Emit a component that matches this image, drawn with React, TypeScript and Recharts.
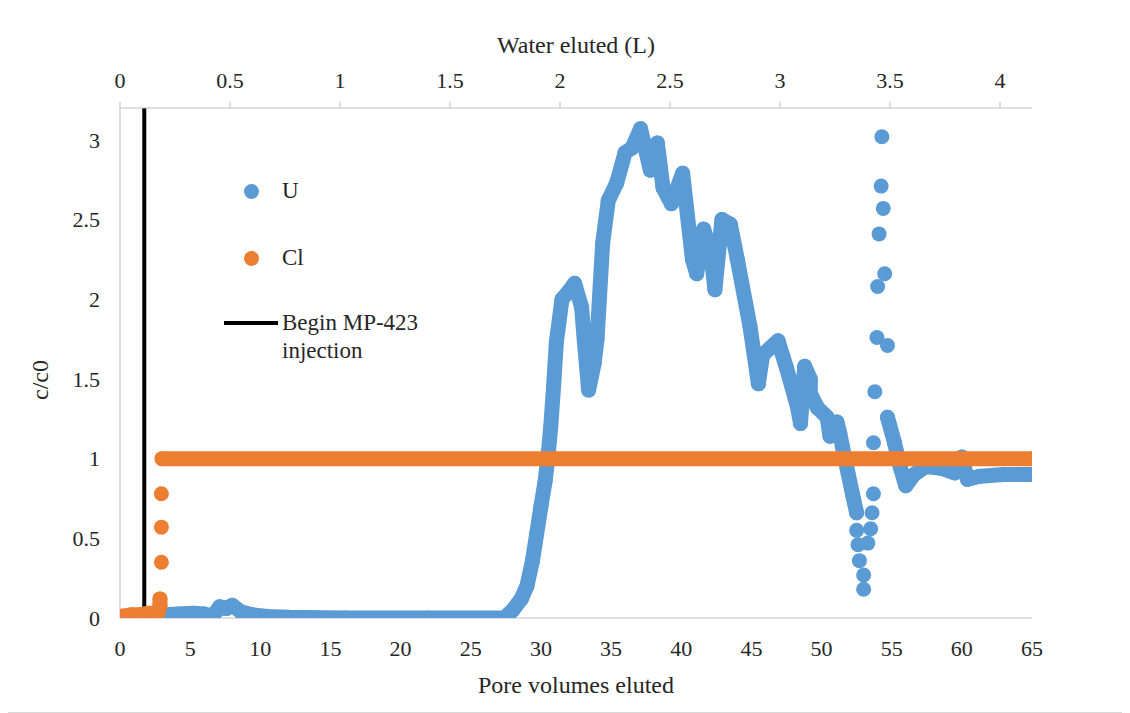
import React from "react";
import { Label, ReferenceLine, Scatter, ScatterChart, XAxis, YAxis } from "recharts";

// pore volumes per litre of water eluted (top axis conversion)
const PV_PER_LITER = 15.68;
const injectionStartPv = 1.73;

const poreVolumeTicks = [0, 5, 10, 15, 20, 25, 30, 35, 40, 45, 50, 55, 60, 65];
const waterTicks = [0, 0.5, 1, 1.5, 2, 2.5, 3, 3.5, 4];
const ratioTicks = [0, 0.5, 1, 1.5, 2, 2.5, 3];

// U, dense run of samples up to the dip near 52 PV
const uEarly: [number, number][] = [
  [0, 0.01], [0.8, 0.0], [1.6, 0.0], [2.4, 0.01], [3.2, 0.02], [4.2, 0.025],
  [5.2, 0.03], [6.0, 0.025], [6.6, 0.01], [7.1, 0.07], [7.6, 0.06], [8.0, 0.08],
  [8.6, 0.04], [9.4, 0.02], [10.5, 0.01], [12, 0.005], [16, 0.0], [22, 0.0],
  [27.4, 0.0], [28.0, 0.05], [28.6, 0.12], [29.0, 0.2], [29.4, 0.36], [29.7, 0.53],
  [30.0, 0.7], [30.3, 0.86], [30.5, 1.01], [30.7, 1.2], [30.9, 1.45], [31.1, 1.73],
  [31.5, 2.0], [31.9, 2.04], [32.4, 2.1], [32.9, 1.95], [33.1, 1.73], [33.4, 1.43],
  [33.8, 1.6], [34.0, 1.75], [34.4, 2.35], [34.8, 2.62], [35.4, 2.73], [36.0, 2.92],
  [36.5, 2.95], [37.1, 3.07], [37.8, 2.81], [38.3, 2.98], [38.7, 2.7], [39.3, 2.6],
  [40.1, 2.79], [40.8, 2.25], [41.1, 2.16], [41.6, 2.44], [42.1, 2.3], [42.4, 2.06],
  [42.9, 2.5], [43.5, 2.47], [44.0, 2.25], [44.9, 1.83], [45.5, 1.47], [45.8, 1.65],
  [46.9, 1.74], [47.5, 1.57], [48.3, 1.32], [48.5, 1.22], [48.8, 1.58], [49.2, 1.5],
  [49.2, 1.41], [49.7, 1.32], [50.4, 1.26], [50.6, 1.14], [51.1, 1.23], [51.3, 1.16],
  [51.5, 1.07], [52.2, 0.78], [52.5, 0.66],
];

// U, sparse samples through the dip and the spike
const uSpike: [number, number][] = [
  [52.5, 0.55], [52.6, 0.46], [52.7, 0.36], [53.0, 0.27], [53.0, 0.18],
  [53.3, 0.47], [53.5, 0.56], [53.6, 0.66], [53.7, 0.78], [53.7, 1.1],
  [53.8, 1.42], [53.95, 1.76], [54.0, 2.08], [54.1, 2.41], [54.25, 2.71],
  [54.3, 3.02], [54.4, 2.57], [54.5, 2.16], [54.7, 1.71],
];

const uLate: [number, number][] = [
  [54.7, 1.26], [55.2, 1.1], [55.6, 0.95], [56.0, 0.83], [56.6, 0.9], [57.4, 0.95],
  [58.5, 0.94], [59.5, 0.91], [60.0, 1.01], [60.4, 0.87], [61.3, 0.89], [63, 0.9],
  [65, 0.9],
];

const clEarly: [number, number][] = [
  [0, 0.01], [0.8, 0.02], [1.4, 0.02], [2.0, 0.03], [2.7, 0.03], [2.85, 0.08], [2.85, 0.12],
];
const clStep: [number, number][] = [[2.95, 0.35], [2.95, 0.57], [2.95, 0.78]];
const clPlateau: [number, number][] = [[3.0, 1.0], [65, 1.0]];

const U_BLUE = "#5b9bd5";
const CL_ORANGE = "#ed7d31";
const AXIS_GREY = "#bfbfbf";
const TEXT = "#262626";
const FONT = '"Liberation Serif", "Times New Roman", serif';

const toPoints = (rows: [number, number][]) => rows.map(([pv, c]) => ({ pv, c }));

const dot = (color: string) => (props: any) =>
  props.cx == null ? <g /> : <circle cx={props.cx} cy={props.cy} r={7.5} fill={color} />;

const thick = (color: string) => ({
  stroke: color,
  strokeWidth: 15,
  strokeLinejoin: "round",
  strokeLinecap: "round",
});

const tickStyle = { fill: TEXT, fontSize: 22, fontFamily: FONT };

function RatioLabel({ viewBox }: any) {
  const cx = viewBox.x + 32;
  const cy = viewBox.y + viewBox.height / 2 + 17;
  return (
    <text
      x={cx}
      y={cy}
      transform={`rotate(-90 ${cx} ${cy})`}
      textAnchor="middle"
      dominantBaseline="central"
      fill={TEXT}
      fontSize={24}
      fontFamily={FONT}
    >
      c/c0
    </text>
  );
}

function LegendBox() {
  const text: React.CSSProperties = {
    position: "absolute",
    left: 58,
    fontSize: 23,
    lineHeight: "28px",
    color: TEXT,
    whiteSpace: "nowrap",
    fontFamily: FONT,
  };
  const marker = (color: string, top: number): React.CSSProperties => ({
    position: "absolute",
    left: 19.5,
    top,
    width: 15,
    height: 15,
    borderRadius: "50%",
    background: color,
  });
  return (
    <div style={{ position: "absolute", left: 216, top: 167, width: 220, height: 200 }}>
      <div style={marker(U_BLUE, 8.5)} />
      <div style={{ ...text, top: 2 }}>U</div>
      <div style={marker(CL_ORANGE, 75.5)} />
      <div style={{ ...text, top: 69 }}>Cl</div>
      <div style={{ position: "absolute", left: 0, top: 146, width: 54, height: 4, background: "#000" }} />
      <div style={{ ...text, top: 134 }}>
        Begin MP-423
        <br />
        injection
      </div>
    </div>
  );
}

export default function App() {
  return (
    <div
      style={{
        position: "relative",
        width: 1121,
        height: 704,
        margin: "-1px 0 0 -1px",
        border: "1px solid #d9d9d9",
        background: "#fff",
        fontFamily: FONT,
      }}
    >
      <ScatterChart width={1121} height={704} margin={{ top: 0, right: 97, bottom: 0, left: 0 }}>
        <XAxis
          xAxisId="pv"
          dataKey="pv"
          type="number"
          domain={[0, 65]}
          ticks={poreVolumeTicks}
          allowDataOverflow
          height={94}
          axisLine={{ stroke: AXIS_GREY }}
          tickLine={false}
          tickSize={0}
          tickMargin={22}
          tick={tickStyle}
        >
          <Label value="Pore volumes eluted" position="insideBottom" offset={19} fill={TEXT} fontSize={24} fontFamily={FONT} />
        </XAxis>
        <XAxis
          xAxisId="water"
          dataKey="pv"
          orientation="top"
          type="number"
          domain={[0, 65 / PV_PER_LITER]}
          ticks={waterTicks}
          allowDataOverflow
          height={100}
          axisLine={{ stroke: AXIS_GREY }}
          tickLine={{ stroke: AXIS_GREY }}
          tickSize={6}
          tickMargin={14}
          tick={tickStyle}
        >
          <Label value="Water eluted (L)" position="insideTop" offset={28} fill={TEXT} fontSize={24} fontFamily={FONT} />
        </XAxis>
        <YAxis
          yAxisId="c"
          dataKey="c"
          type="number"
          domain={[0, 3.2]}
          ticks={ratioTicks}
          allowDataOverflow
          width={112}
          axisLine={{ stroke: AXIS_GREY }}
          tickLine={false}
          tickSize={0}
          tickMargin={20}
          tick={tickStyle}
        >
          <Label content={RatioLabel} />
        </YAxis>

        {/* carries the top (litres) axis; draws nothing */}
        <Scatter xAxisId="water" yAxisId="c" name="water" data={toPoints(clPlateau.slice(0, 1))}
          shape={() => <g />} isAnimationActive={false} />

        <Scatter xAxisId="pv" yAxisId="c" name="U" data={toPoints(uEarly)} fill={U_BLUE}
          line={thick(U_BLUE)} shape={dot(U_BLUE)} isAnimationActive={false} />
        <Scatter xAxisId="pv" yAxisId="c" name="U spike" data={toPoints(uSpike)} fill={U_BLUE}
          shape={dot(U_BLUE)} isAnimationActive={false} />
        <Scatter xAxisId="pv" yAxisId="c" name="U late" data={toPoints(uLate)} fill={U_BLUE}
          line={thick(U_BLUE)} shape={dot(U_BLUE)} isAnimationActive={false} />

        <Scatter xAxisId="pv" yAxisId="c" name="Cl" data={toPoints(clEarly)} fill={CL_ORANGE}
          line={thick(CL_ORANGE)} shape={dot(CL_ORANGE)} isAnimationActive={false} />
        <Scatter xAxisId="pv" yAxisId="c" name="Cl step" data={toPoints(clStep)} fill={CL_ORANGE}
          shape={dot(CL_ORANGE)} isAnimationActive={false} />
        <Scatter xAxisId="pv" yAxisId="c" name="Cl plateau" data={toPoints(clPlateau)} fill={CL_ORANGE}
          line={thick(CL_ORANGE)} shape={dot(CL_ORANGE)} isAnimationActive={false} />

        <ReferenceLine xAxisId="pv" yAxisId="c" x={injectionStartPv} stroke="#000" strokeWidth={4} />
      </ScatterChart>
      <LegendBox />
    </div>
  );
}
